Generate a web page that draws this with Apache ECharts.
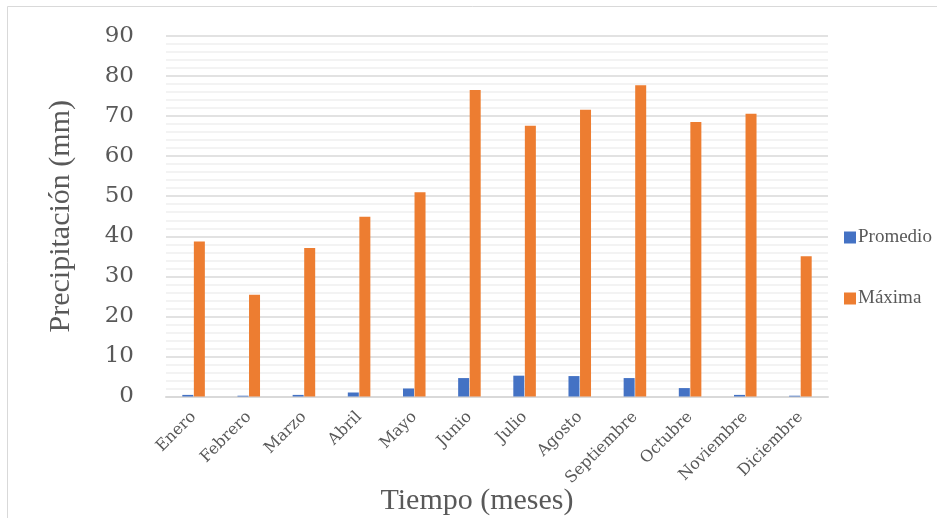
<!DOCTYPE html>
<html>
<head>
<meta charset="utf-8">
<script src="https://cdn.jsdelivr.net/npm/echarts@6/dist/echarts.min.js"></script>
<style>
  html, body { margin: 0; padding: 0; background: #fff; }
  #chart { width: 937px; height: 518px; }
</style>
</head>
<body>
<div id="chart"></div>
<script>
// Monthly precipitation (mm): average and maximum
const meses = ['Enero', 'Febrero', 'Marzo', 'Abril', 'Mayo', 'Junio', 'Julio',
  'Agosto', 'Septiembre', 'Octubre', 'Noviembre', 'Diciembre'];
const promedio = [0.4, 0.2, 0.4, 1.0, 2.0, 4.6, 5.2, 5.1, 4.6, 2.1, 0.4, 0.2];
const maxima = [38.7, 25.4, 37.1, 44.9, 51.0, 76.5, 67.6, 71.6, 77.7, 68.5, 70.6, 35.0];
const yTicks = { min: 0, max: 90, interval: 10 };

const serif = '"Liberation Serif", "DejaVu Serif", serif';
const wideSerif = '"DejaVu Serif", "Liberation Serif", serif';
const gris = '#595959';

const chart = echarts.init(document.getElementById('chart'), null, { renderer: 'canvas' });
chart.setOption({
  animation: false,
  backgroundColor: '#ffffff',
  graphic: [{
    type: 'rect',
    shape: { x: 7.5, y: 6.5, width: 940, height: 520 },
    style: { fill: 'none', stroke: '#d9d9d9', lineWidth: 1 },
    silent: true
  }],
  grid: { left: 166, right: 109, top: 36, bottom: 121.5, outerBoundsMode: 'none' },
  legend: {
    orient: 'vertical',
    left: 839,
    top: 223,
    itemWidth: 12,
    itemHeight: 12,
    itemGap: 42,
    icon: 'rect',
    textStyle: { fontFamily: serif, fontSize: 19, color: gris, padding: [0, 0, 0, -3] },
    data: ['Promedio', 'Máxima']
  },
  xAxis: {
    type: 'category',
    data: meses,
    name: 'Tiempo (meses)',
    nameLocation: 'middle',
    nameGap: 90,
    nameMoveOverlap: false,
    nameTextStyle: { fontFamily: serif, fontSize: 30, color: gris, padding: [0, 40, 0, 0] },
    axisLine: { lineStyle: { color: '#d9d9d9', width: 2 } },
    axisTick: { show: false },
    axisLabel: {
      rotate: 45,
      interval: 0,
      margin: 18,
      fontFamily: wideSerif,
      fontSize: 16,
      color: gris
    }
  },
  yAxis: {
    type: 'value',
    min: yTicks.min,
    max: yTicks.max,
    interval: yTicks.interval,
    name: 'Precipitación (mm)',
    nameLocation: 'middle',
    nameGap: 90,
    nameTextStyle: { fontFamily: serif, fontSize: 30, color: gris },
    axisLine: { show: false },
    axisTick: { show: false },
    axisLabel: {
      margin: 32,
      fontFamily: wideSerif,
      fontSize: 23,
      color: gris,
      padding: [4, 0, 0, 0]
    },
    splitLine: { lineStyle: { color: '#d9d9d9', width: 1.5 } },
    minorTick: { show: false, splitNumber: 5 },
    minorSplitLine: { show: true, lineStyle: { color: '#f0f0f0', width: 1.5 } }
  },
  series: [
    {
      name: 'Promedio',
      type: 'bar',
      data: promedio,
      barWidth: 11,
      barGap: '5%',
      itemStyle: { color: '#4472c4' }
    },
    {
      name: 'Máxima',
      type: 'bar',
      data: maxima,
      barWidth: 11,
      barGap: '5%',
      itemStyle: { color: '#ed7d31' }
    }
  ]
});
</script>
</body>
</html>
